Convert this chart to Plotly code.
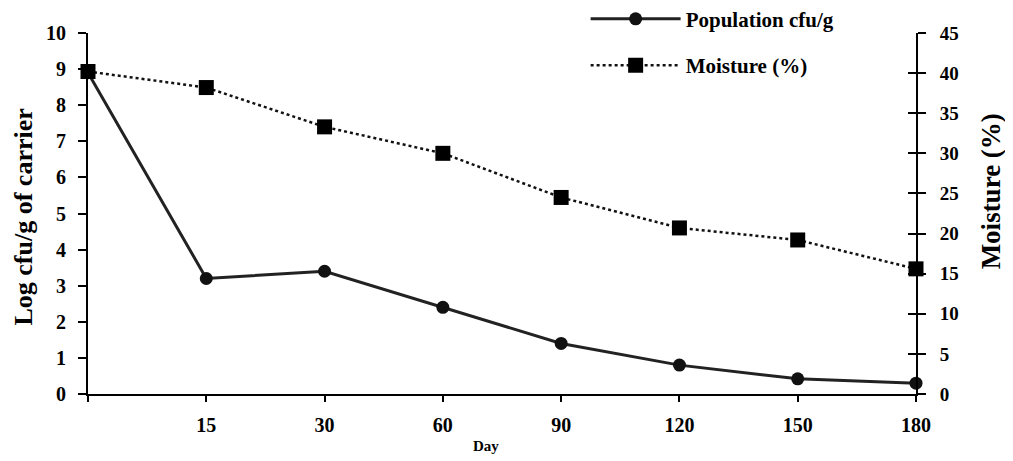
import plotly.graph_objects as go

days = ["0", "15", "30", "60", "90", "120", "150", "180"]
day_labels = ["", "15", "30", "60", "90", "120", "150", "180"]
population = [8.9, 3.2, 3.4, 2.4, 1.4, 0.8, 0.42, 0.3]
moisture = [40.2, 38.2, 33.3, 30.0, 24.5, 20.7, 19.2, 15.6]
left_ticks = list(range(0, 11))
right_ticks = list(range(0, 50, 5))

FONT = "Liberation Serif"

fig = go.Figure()
fig.add_trace(go.Scatter(
    x=days, y=population, name="<b>Population cfu/g</b>", mode="lines+markers",
    legendgroup="a",
    line=dict(color="#222222", width=3),
    marker=dict(symbol="circle", size=13, color="#111111"),
    cliponaxis=False, yaxis="y"))
fig.add_trace(go.Scatter(
    x=days, y=moisture, name="<b>Moisture (%)</b>", mode="lines+markers",
    legendgroup="b",
    line=dict(color="#111111", width=2.5, dash="dot"),
    marker=dict(symbol="square", size=15, color="#000000"),
    cliponaxis=False, yaxis="y2"))
# invisible trace to anchor the inner tick marks of the right axis
fig.add_trace(go.Scatter(x=days, y=moisture, yaxis="y3", mode="none",
                         showlegend=False, hoverinfo="skip"))

fig.update_layout(
    width=1013, height=461,
    margin=dict(l=80, r=105, t=25, b=75, autoexpand=False),
    paper_bgcolor="white", plot_bgcolor="white",
    font=dict(family=FONT, color="black", size=16),
    showlegend=True,
    legend=dict(x=0.601, y=1.095, xanchor="left", yanchor="top",
                bgcolor="rgba(0,0,0,0)", font=dict(size=21, family=FONT),
                itemwidth=90, tracegroupgap=16),
    xaxis=dict(
        type="category", range=[0, 7],
        tickmode="array", tickvals=days, ticktext=["<b>%s</b>" % t for t in day_labels],
        showgrid=False, zeroline=False,
        showline=True, linecolor="black", linewidth=2,
        ticks="outside", ticklen=6, tickwidth=2, tickcolor="black",
        tickfont=dict(size=20, family=FONT), ticklabelstandoff=6,
    ),
    yaxis=dict(
        range=[0, 10], tickmode="array", tickvals=left_ticks,
        ticktext=["<b>%d</b>" % v for v in left_ticks],
        showgrid=False, zeroline=False,
        showline=True, linecolor="black", linewidth=2,
        ticks="outside", ticklen=8, tickwidth=2, tickcolor="black",
        tickfont=dict(size=20, family=FONT), ticklabelstandoff=8,
    ),
    yaxis2=dict(
        overlaying="y", side="right", range=[0, 45], tickmode="array",
        tickvals=right_ticks, ticktext=["<b>%d</b>" % v for v in right_ticks],
        showgrid=False, zeroline=False,
        showline=True, linecolor="black", linewidth=2,
        ticks="outside", ticklen=8, tickwidth=2, tickcolor="black",
        tickfont=dict(size=19, family=FONT), ticklabelstandoff=10,
    ),
    yaxis3=dict(
        overlaying="y", side="right", range=[0, 45], tickmode="array",
        tickvals=right_ticks, showticklabels=False,
        showgrid=False, zeroline=False, showline=False,
        ticks="inside", ticklen=8, tickwidth=2, tickcolor="black",
    ),
    annotations=[
        dict(text="<b>Log cfu/g of carrier</b>", textangle=-90,
             xref="paper", yref="paper", x=-0.078, y=0.49,
             xanchor="center", yanchor="middle", showarrow=False,
             font=dict(size=26, family=FONT)),
        dict(text="<b>Moisture (%)</b>", textangle=-90,
             xref="paper", yref="paper", x=1.09, y=0.56,
             xanchor="center", yanchor="middle", showarrow=False,
             font=dict(size=27, family=FONT)),
        dict(text="<b>Day</b>", xref="paper", yref="paper", x=0.481, y=-0.145,
             xanchor="center", yanchor="middle", showarrow=False,
             font=dict(size=15, family=FONT)),
    ],
)

fig.write_html("out.html")
